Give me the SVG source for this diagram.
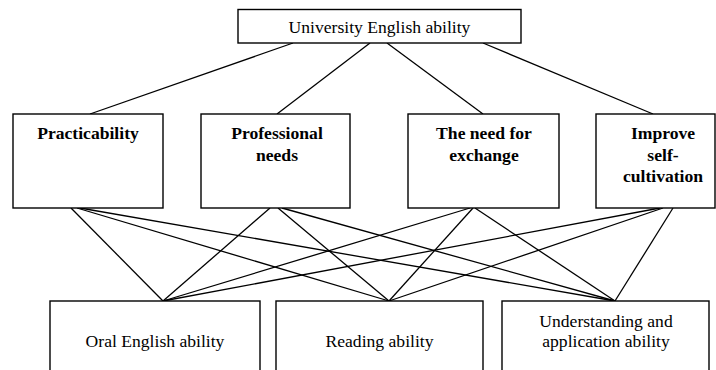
<svg xmlns="http://www.w3.org/2000/svg" width="716" height="370" viewBox="0 0 716 370">
  <style>
    .box { fill: #ffffff; stroke: #000000; stroke-width: 1.4; }
    .edge { stroke: #000000; stroke-width: 1.3; fill: none; }
    .lbl { font-family: "Liberation Serif", "Times New Roman", serif; font-size: 17.6px; fill: #000000; text-anchor: middle; }
    .bold { font-weight: bold; }
  </style>
  <rect width="716" height="370" fill="#ffffff"/>

  <!-- connectors -->
  <g id="connectors">
    <!-- goal to criteria -->
    <line class="edge" x1="293" y1="43" x2="90" y2="114"/>
    <line class="edge" x1="370" y1="43" x2="277" y2="114"/>
    <line class="edge" x1="387" y1="43" x2="483" y2="114"/>
    <line class="edge" x1="483" y1="43" x2="653" y2="114"/>
    <!-- criteria to abilities -->
    <line class="edge" x1="71" y1="208" x2="163" y2="301"/>
    <line class="edge" x1="77" y1="208" x2="389" y2="301"/>
    <line class="edge" x1="80" y1="208" x2="615" y2="301"/>
    <line class="edge" x1="270" y1="208" x2="163" y2="301"/>
    <line class="edge" x1="278" y1="208" x2="389" y2="301"/>
    <line class="edge" x1="282" y1="208" x2="615" y2="301"/>
    <line class="edge" x1="470" y1="208" x2="163" y2="301"/>
    <line class="edge" x1="473" y1="208" x2="389" y2="301"/>
    <line class="edge" x1="475" y1="208" x2="615" y2="301"/>
    <line class="edge" x1="660" y1="208" x2="163" y2="301"/>
    <line class="edge" x1="663" y1="208" x2="389" y2="301"/>
    <line class="edge" x1="673" y1="208" x2="615" y2="301"/>
  </g>

  <g id="goal">
    <rect class="box" x="238" y="9.5" width="283" height="33.5"/>
    <text class="lbl" x="379.5" y="33">University English ability</text>
  </g>

  <g id="practicability">
    <rect class="box" x="13" y="114" width="150" height="94"/>
    <text class="lbl bold" x="88" y="139">Practicability</text>
  </g>

  <g id="professional-needs">
    <rect class="box" x="201" y="114" width="149" height="94"/>
    <text class="lbl bold" x="277" y="139">Professional</text>
    <text class="lbl bold" x="277" y="160.5">needs</text>
  </g>

  <g id="need-for-exchange">
    <rect class="box" x="408" y="114" width="151" height="94"/>
    <text class="lbl bold" x="484" y="139">The need for</text>
    <text class="lbl bold" x="484" y="160.5">exchange</text>
  </g>

  <g id="improve-self-cultivation">
    <rect class="box" x="596" y="114" width="119" height="94"/>
    <text class="lbl bold" x="663" y="139">Improve</text>
    <text class="lbl bold" x="663" y="160.5">self-</text>
    <text class="lbl bold" x="663" y="182">cultivation</text>
  </g>

  <g id="oral-english">
    <rect class="box" x="50" y="301" width="210" height="75"/>
    <text class="lbl" x="155" y="347">Oral English ability</text>
  </g>

  <g id="reading">
    <rect class="box" x="276" y="301" width="207" height="75"/>
    <text class="lbl" x="379.5" y="347">Reading ability</text>
  </g>

  <g id="understanding-application">
    <rect class="box" x="502" y="301" width="207" height="75"/>
    <text class="lbl" x="606" y="327">Understanding and</text>
    <text class="lbl" x="606" y="347">application ability</text>
  </g>
</svg>
